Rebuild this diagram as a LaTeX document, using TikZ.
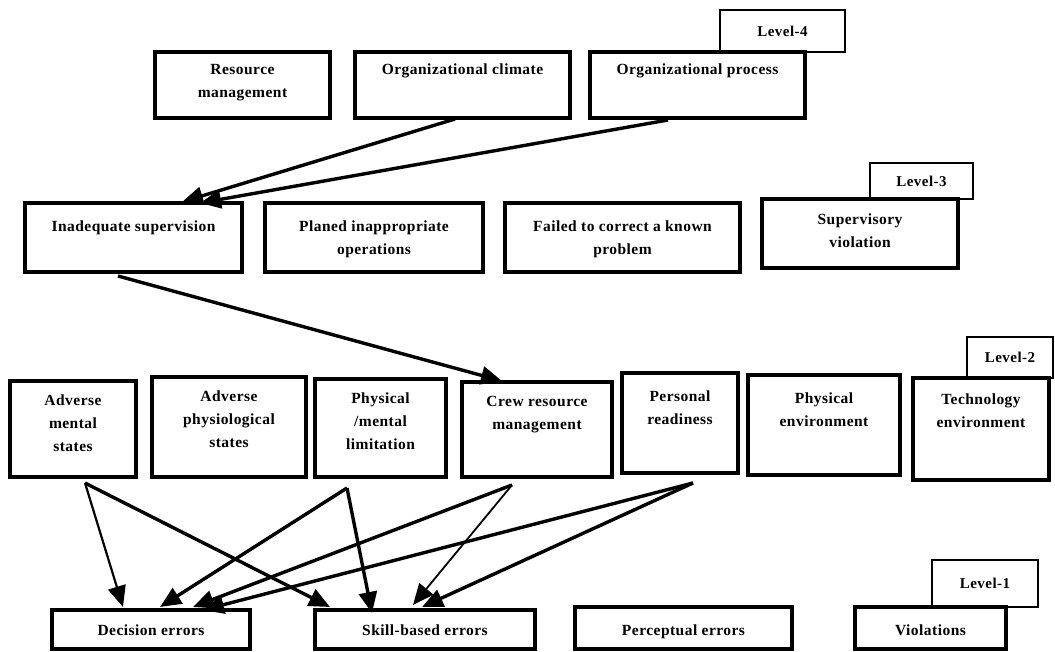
\documentclass[tikz,border=0pt]{standalone}
\usepackage{fontspec}
\setmainfont{Liberation Serif}[LetterSpace=3]
\usetikzlibrary{arrows.meta,calc}

% box with its corners given in pixel units (y grows downward)
\newcommand\boxat[6]{\node[#1, anchor=north west,
  minimum width={#5pt-#3pt}, minimum height={#6pt-#4pt}] (#2) at (#3,#4) {};}

\begin{document}
\begin{tikzpicture}[x=1pt,y=-1pt,
  box/.style={draw, line width=3.6pt, inner sep=0pt, outer sep=0pt},
  lvbox/.style={draw, line width=1.8pt, inner sep=0pt, outer sep=0pt, fill=white},
  lbl/.style={align=center, inner sep=0pt, font=\bfseries\fontsize{15.5}{23}\selectfont},
  lvl/.style={inner sep=0pt, font=\bfseries\fontsize{15}{18}\selectfont},
  link/.style={line width=3.4pt, -{Triangle[length=21pt,width=18pt]}},
  thinlink/.style={link, line width=2.2pt},
]
\useasboundingbox (0,0) rectangle (1055,652);

% ---------------- Level 4 ----------------
\boxat{lvbox}{lv4}{720}{10}{845}{52}
\boxat{box}{res}{155}{52}{330}{118}
\boxat{box}{clim}{355}{52}{570}{118}
\boxat{box}{proc}{590}{52}{805}{118}
\node[lvl] (lv4-t) at (lv4.center) {Level-4};
\node[lbl, anchor=north] (res-t) at ($(res.north)+(0,12)$) {Resource\\management};
\node[lbl, anchor=north] (clim-t) at ($(clim.north)+(0,12)$) {Organizational climate};
\node[lbl, anchor=north] (proc-t) at ($(proc.north)+(0,12)$) {Organizational process};

% ---------------- Level 3 ----------------
\boxat{lvbox}{lv3}{870}{163}{973}{199}
\boxat{box}{insp}{25}{203}{242}{272}
\boxat{box}{plan}{265}{203}{483}{272}
\boxat{box}{fail}{505}{203}{740}{272}
\boxat{box}{supv}{762}{199}{958}{268}
\node[lvl] (lv3-t) at (lv3.center) {Level-3};
\node[lbl, anchor=north] (insp-t) at ($(insp.north)+(0,18)$) {Inadequate supervision};
\node[lbl, anchor=north] (plan-t) at ($(plan.north)+(0,18)$) {Planed inappropriate\\operations};
\node[lbl, anchor=north] (fail-t) at ($(fail.north)+(0,18)$) {Failed to correct a known\\problem};
\node[lbl, anchor=north] (supv-t) at ($(supv.north)+(0,15)$) {Supervisory\\violation};

% ---------------- Level 2 ----------------
\boxat{lvbox}{lv2}{967}{337}{1053}{378}
\boxat{box}{am}{10}{381}{136}{477}
\boxat{box}{aph}{152}{377}{306}{477}
\boxat{box}{pml}{315}{379}{446}{477}
\boxat{box}{crm}{462}{382}{612}{477}
\boxat{box}{pr}{622}{373}{738}{473}
\boxat{box}{pe}{748}{375}{900}{475}
\boxat{box}{te}{913}{378}{1049}{480}
\node[lvl] (lv2-t) at (lv2.center) {Level-2};
\node[lbl, anchor=north] (am-t) at ($(am.north)+(0,14)$) {Adverse\\mental\\states};
\node[lbl, anchor=north] (aph-t) at ($(aph.north)+(0,14)$) {Adverse\\physiological\\states};
\node[lbl, anchor=north] (pml-t) at ($(pml.north)+(0,14)$) {Physical\\/mental\\limitation};
\node[lbl, anchor=north] (crm-t) at ($(crm.north)+(0,14)$) {Crew resource\\management};
\node[lbl, anchor=north] (pr-t) at ($(pr.north)+(0,18)$) {Personal\\readiness};
\node[lbl, anchor=north] (pe-t) at ($(pe.north)+(0,18)$) {Physical\\environment};
\node[lbl, anchor=north] (te-t) at ($(te.north)+(0,16)$) {Technology\\environment};

% ---------------- Level 1 ----------------
\boxat{lvbox}{lv1}{932}{560}{1038}{607}
\boxat{box}{dec}{52}{610}{250}{649}
\boxat{box}{skl}{315}{610}{535}{649}
\boxat{box}{per}{575}{607}{792}{649}
\boxat{box}{vio}{855}{607}{1006}{649}
\node[lvl] (lv1-t) at (lv1.center) {Level-1};
\node[lbl, anchor=north] (dec-t) at ($(dec.north)+(0,15)$) {Decision errors};
\node[lbl, anchor=north] (skl-t) at ($(skl.north)+(0,15)$) {Skill-based errors};
\node[lbl, anchor=north] (per-t) at ($(per.north)+(0,18)$) {Perceptual errors};
\node[lbl, anchor=north] (vio-t) at ($(vio.north)+(0,18)$) {Violations};

% ---------------- connector ends ----------------
\coordinate (clim-o) at ($(clim.south west)+(100,1)$);
\coordinate (proc-o) at ($(proc.south west)+(78,2)$);
\coordinate (insp-i1) at ($(insp.north west)+(157,-1)$);
\coordinate (insp-i2) at ($(insp.north west)+(175,0)$);
\coordinate (insp-o) at ($(insp.south west)+(93,4)$);
\coordinate (crm-i) at ($(crm.north west)+(40,-1)$);

\coordinate (am-o) at ($(am.south west)+(75,6)$);
\coordinate (pml-o) at ($(pml.south west)+(32,11)$);
\coordinate (crm-o) at ($(crm.south west)+(50,8)$);
\coordinate (pr-o) at ($(pr.south west)+(71,10)$);

\coordinate (dec-a) at ($(dec.north west)+(71,-3)$);
\coordinate (dec-b) at ($(dec.north west)+(108,-3)$);
\coordinate (dec-c) at ($(dec.north west)+(141,-3)$);
\coordinate (dec-d) at ($(dec.north west)+(151,0)$);
\coordinate (skl-a) at ($(skl.north west)+(15,-3)$);
\coordinate (skl-b) at ($(skl.north west)+(57,3)$);
\coordinate (skl-c) at ($(skl.north west)+(98,-5)$);
\coordinate (skl-d) at ($(skl.north west)+(107,-3)$);

% ---------------- connectors ----------------
\draw[link] (clim-o) -- (insp-i1);
\draw[link] (proc-o) -- (insp-i2);
\draw[link] (insp-o) -- (crm-i);

\draw[thinlink] (am-o) -- (dec-a);
\draw[link] (am-o) -- (skl-a);
\draw[link] (pml-o) -- (dec-b);
\draw[link] (pml-o) -- (skl-b);
\draw[link] (crm-o) -- (dec-c);
\draw[thinlink, line width=1.8pt] (crm-o) -- (skl-c);
\draw[link] (pr-o) -- (dec-d);
\draw[link] (pr-o) -- (skl-d);
\end{tikzpicture}
\end{document}
